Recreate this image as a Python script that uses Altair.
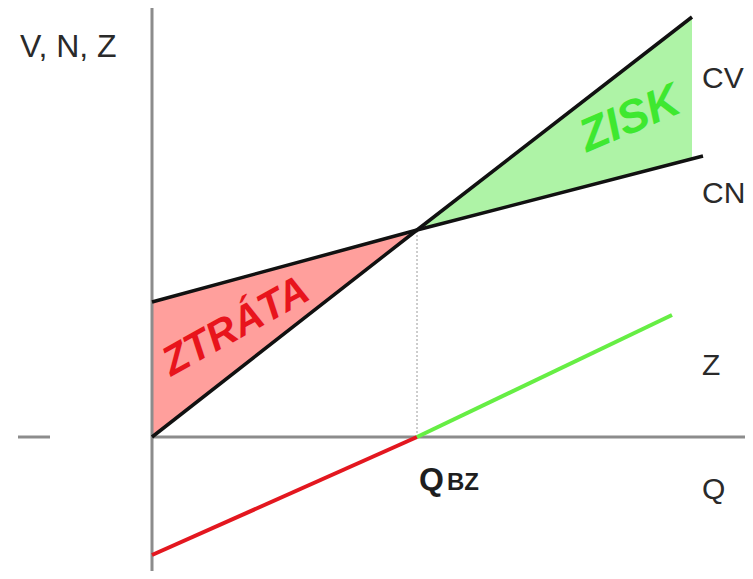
import altair as alt
import pandas as pd

# --- data (chart units) ---
q_bz = 26.5
v_bz = 20.7

cv_q = [0.0, 26.5, 54.0]
cv_v = [0.0, 20.7, 42.0]

cn_q = [0.0, 26.5, 55.1]
cn_v = [13.5, 20.7, 28.1]

loss_q = [0.0, 26.5]
loss_top = [13.5, 20.7]
loss_bot = [0.0, 20.7]

profit_q = [26.5, 54.0]
profit_top = [20.7, 42.0]
profit_bot = [20.7, 27.8]

zl_q = [0.0, 26.5]
zl_v = [-11.8, 0.0]
zp_q = [26.5, 52.0]
zp_v = [0.0, 12.2]

side_labels = ["CV", "CN", "Z", "Q"]
side_q = [55.0, 55.0, 55.0, 55.0]
side_v = [34.9, 23.4, 6.2, -6.2]

x_dom = [-14.4, 59.3]
y_dom = [-13.4, 42.9]

xs = alt.Scale(domain=x_dom, nice=False, zero=False)
ys = alt.Scale(domain=y_dom, nice=False, zero=False)

def X(f="q"):
    return alt.X(f"{f}:Q", scale=xs, axis=None)

def Y(f="v"):
    return alt.Y(f"{f}:Q", scale=ys, axis=None)

loss = alt.Chart(pd.DataFrame({"q": loss_q, "v": loss_bot, "v2": loss_top})).mark_area(
    color="#ff9f9c", opacity=1).encode(x=X(), y=Y(), y2="v2:Q")
profit = alt.Chart(pd.DataFrame({"q": profit_q, "v": profit_bot, "v2": profit_top})).mark_area(
    color="#aef3a6", opacity=1).encode(x=X(), y=Y(), y2="v2:Q")

axes_df = pd.DataFrame({
    "q": [0.0, 0.0, -13.4],
    "v": [-13.4, 0.0, 0.0],
    "q2": [0.0, 59.3, -10.2],
    "v2": [43.2, 0.0, 0.0],
})
axes = alt.Chart(axes_df).mark_rule(color="#8c8c8c", strokeWidth=3).encode(
    x=X(), y=Y(), x2="q2:Q", y2="v2:Q")

dotted = alt.Chart(pd.DataFrame({"q": [q_bz], "v": [0.0], "v2": [v_bz]})).mark_rule(
    color="#9a9a9a", strokeWidth=1, strokeDash=[2, 2]).encode(x=X(), y=Y(), y2="v2:Q")

cv_line = alt.Chart(pd.DataFrame({"q": cv_q, "v": cv_v})).mark_line(
    color="#111111", strokeWidth=3.5).encode(x=X(), y=Y())
cn_line = alt.Chart(pd.DataFrame({"q": cn_q, "v": cn_v})).mark_line(
    color="#111111", strokeWidth=3.5).encode(x=X(), y=Y())

zl_line = alt.Chart(pd.DataFrame({"q": zl_q, "v": zl_v})).mark_line(
    color="#e3171f", strokeWidth=4).encode(x=X(), y=Y())
zp_line = alt.Chart(pd.DataFrame({"q": zp_q, "v": zp_v})).mark_line(
    color="#66ee44", strokeWidth=4).encode(x=X(), y=Y())

vnz = alt.Chart(pd.DataFrame({"q": [-13.2], "v": [38.0], "t": ["V, N, Z"]})).mark_text(
    align="left", baseline="alphabetic", font="Liberation Sans", fontSize=32, color="#2a2a2a"
).encode(x=X(), y=Y(), text="t:N")
labels = alt.Chart(pd.DataFrame({"q": side_q, "v": side_v, "t": side_labels})).mark_text(
    align="left", baseline="alphabetic", font="Liberation Sans", fontSize=30, color="#2a2a2a"
).encode(x=X(), y=Y(), text="t:N")

qbz_q = alt.Chart(pd.DataFrame({"q": [26.7], "v": [-5.3], "t": ["Q"]})).mark_text(
    align="left", baseline="alphabetic", font="Liberation Sans", fontSize=32,
    fontWeight="bold", color="#1e1e1e").encode(x=X(), y=Y(), text="t:N")
qbz_s = alt.Chart(pd.DataFrame({"q": [29.5], "v": [-5.3], "t": ["BZ"]})).mark_text(
    align="left", baseline="alphabetic", font="Liberation Sans", fontSize=24,
    fontWeight="bold", color="#1e1e1e").encode(x=X(), y=Y(), text="t:N")

ztrata = alt.Chart(pd.DataFrame({"q": [8.4], "v": [11.0], "t": ["ZTRÁTA"]})).mark_text(
    align="center", baseline="middle", font="Liberation Sans", fontSize=41,
    fontWeight="bold", fontStyle="italic", angle=331, color="#e8141c"
).encode(x=X(), y=Y(), text="t:N")
zisk = alt.Chart(pd.DataFrame({"q": [47.8], "v": [31.8], "t": ["ZISK"]})).mark_text(
    align="center", baseline="middle", font="Liberation Sans", fontSize=46,
    fontWeight="bold", fontStyle="italic", angle=337, color="#3ee830"
).encode(x=X(), y=Y(), text="t:N")

chart = alt.layer(
    loss, profit, axes, dotted, cv_line, cn_line, zl_line, zp_line,
    vnz, labels, qbz_q, qbz_s, ztrata, zisk
).properties(
    width=737, height=563, padding=0,
    autosize=alt.AutoSizeParams(type="none"),
).configure_view(stroke=None)

chart.save("out.html", embed_options={"renderer": "svg", "actions": False})
